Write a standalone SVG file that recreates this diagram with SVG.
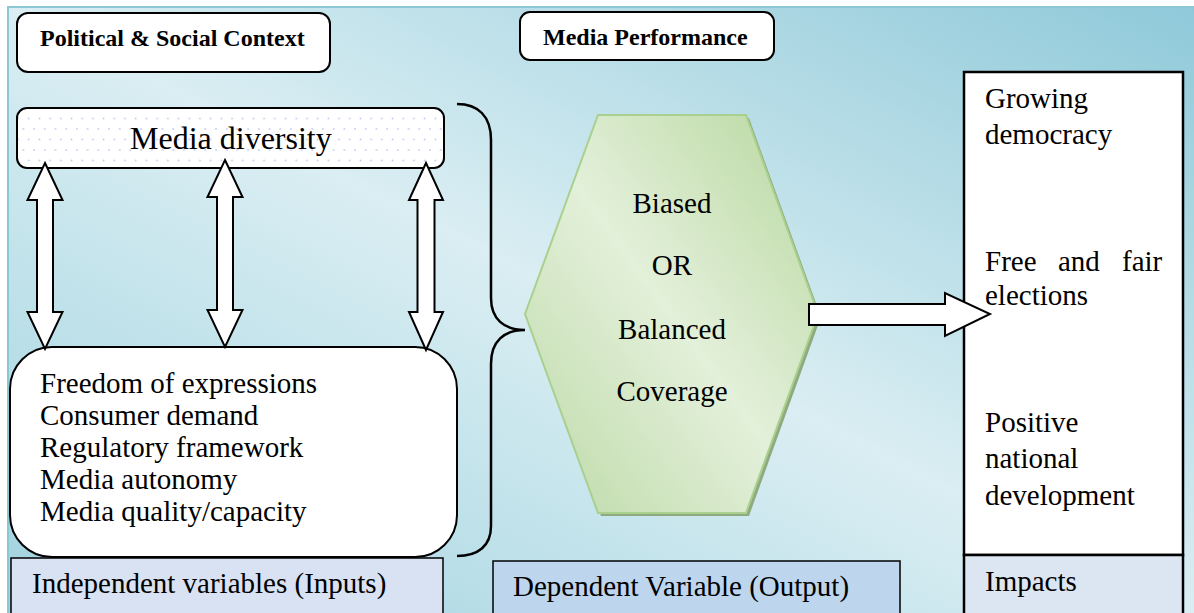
<svg xmlns="http://www.w3.org/2000/svg" width="1194" height="613" viewBox="0 0 1194 613">
  <defs>
    <linearGradient id="bg" x1="1" y1="0" x2="0" y2="1">
      <stop offset="0" stop-color="#8fc9d9"/>
      <stop offset="0.5" stop-color="#daeef3"/>
      <stop offset="1" stop-color="#9fd2df"/>
    </linearGradient>
    <linearGradient id="hexFill" x1="0" y1="1" x2="1" y2="0">
      <stop offset="0" stop-color="#bcd9a6"/>
      <stop offset="0.5" stop-color="#e3f0da"/>
      <stop offset="1" stop-color="#b7d79e"/>
    </linearGradient>
    <pattern id="dots" width="10.7" height="21" patternUnits="userSpaceOnUse">
      <rect width="10.7" height="21" fill="#ffffff"/>
      <circle cx="2" cy="3" r="0.9" fill="#c3cbef"/>
      <circle cx="7.35" cy="13.5" r="0.9" fill="#c3cbef"/>
    </pattern>
    <style>
      .t { font-family: "Liberation Serif", "Times New Roman", serif; fill: #000; }
      .h { font-size: 24px; font-weight: bold; }
      .b { font-size: 29px; }
      .box { stroke: #000; stroke-width: 2; }
      .arrow { fill: #fff; stroke: #000; stroke-width: 2; stroke-linejoin: miter; }
    </style>
  </defs>

  <!-- backdrop -->
  <rect x="0" y="0" width="1194" height="613" fill="#ffffff"/>
  <rect x="8" y="7" width="1190" height="610" fill="url(#bg)" stroke="#8cc7d6" stroke-width="2"/>

  <!-- headings -->
  <g id="political-context">
    <rect class="box" x="17" y="13" width="313" height="59" rx="11" fill="#fff" stroke-width="1.8"/>
    <text class="t h" x="40" y="46">Political &amp; Social Context</text>
  </g>
  <g id="media-performance">
    <rect class="box" x="520" y="12" width="254" height="48" rx="10" fill="#fff" stroke-width="1.8"/>
    <text class="t h" x="543" y="45">Media Performance</text>
  </g>

  <!-- inputs -->
  <g id="media-diversity">
    <rect class="box" x="17" y="108" width="427" height="60" rx="10" fill="url(#dots)"/>
    <text class="t" x="130" y="149" font-size="32">Media diversity</text>
  </g>
  <g id="factors">
    <rect class="box" x="10" y="347" width="447" height="210" rx="42" fill="#fff"/>
    <text class="t b" x="40" y="393">Freedom of expressions</text>
    <text class="t b" x="40" y="425">Consumer demand</text>
    <text class="t b" x="40" y="457">Regulatory framework</text>
    <text class="t b" x="40" y="489">Media autonomy</text>
    <text class="t b" x="40" y="521">Media quality/capacity</text>
  </g>
  <g id="independent-label">
    <rect x="11" y="558" width="432" height="60" fill="#d9e2f3" stroke="#000" stroke-width="1.5"/>
    <text class="t b" x="32" y="593">Independent variables (Inputs)</text>
  </g>

  <!-- output -->
  <g id="coverage">
    <polygon points="601,118 749,118 821,317 749,516 601,516 528,317" fill="#8eaa7e"/>
    <polygon points="598,115 746,115 818,314 746,513 598,513 525,314" fill="url(#hexFill)" stroke="#a9d08e" stroke-width="2"/>
    <text class="t b" x="672" y="213" text-anchor="middle">Biased</text>
    <text class="t b" x="672" y="275" text-anchor="middle">OR</text>
    <text class="t b" x="672" y="339" text-anchor="middle">Balanced</text>
    <text class="t b" x="672" y="401" text-anchor="middle">Coverage</text>
  </g>
  <g id="dependent-label">
    <rect x="493" y="561" width="407" height="60" fill="#bdd6ee" stroke="#000" stroke-width="1.5"/>
    <text class="t b" x="513" y="596">Dependent Variable (Output)</text>
  </g>

  <!-- impacts -->
  <g id="impacts">
    <rect x="964" y="72" width="219" height="483" fill="#fff" stroke="#000" stroke-width="2.5"/>
    <rect x="964" y="555" width="219" height="62" fill="#dce6f2" stroke="#000" stroke-width="2.5"/>
    <text class="t b" x="985" y="108">Growing</text>
    <text class="t b" x="985" y="144">democracy</text>
    <text class="t b" x="985" y="271">Free</text>
    <text class="t b" x="1058" y="271">and</text>
    <text class="t b" x="1122" y="271">fair</text>
    <text class="t b" x="985" y="305">elections</text>
    <text class="t b" x="985" y="432">Positive</text>
    <text class="t b" x="985" y="468">national</text>
    <text class="t b" x="985" y="505">development</text>
    <text class="t b" x="985" y="591">Impacts</text>
  </g>

  <!-- connectors -->
  <g id="connectors">
    <!-- brace grouping the inputs -->
    <path d="M457,104 C478,104 491,116 491,140 L491,298 C491,319 504,330 525,330 C504,330 491,341 491,364 L491,526 C491,546 478,556 457,556" fill="none" stroke="#000" stroke-width="2.5"/>
    <!-- two-way links between diversity and factors -->
    <polygon class="arrow" points="45,163 62.5,200 53,200 53,312 62.5,312 45,349 27.5,312 37,312 37,200 27.5,200"/>
    <polygon class="arrow" points="225,160 242.5,197 233,197 233,310 242.5,310 225,347 207.5,310 217,310 217,197 207.5,197"/>
    <polygon class="arrow" points="426,163 443,200 434.5,200 434.5,312 443,312 426,350 409,312 417.5,312 417.5,200 409,200"/>
    <!-- coverage to impacts -->
    <polygon class="arrow" points="809,304 945,304 945,293 990,314 945,336 945,325 809,325"/>
  </g>
</svg>
